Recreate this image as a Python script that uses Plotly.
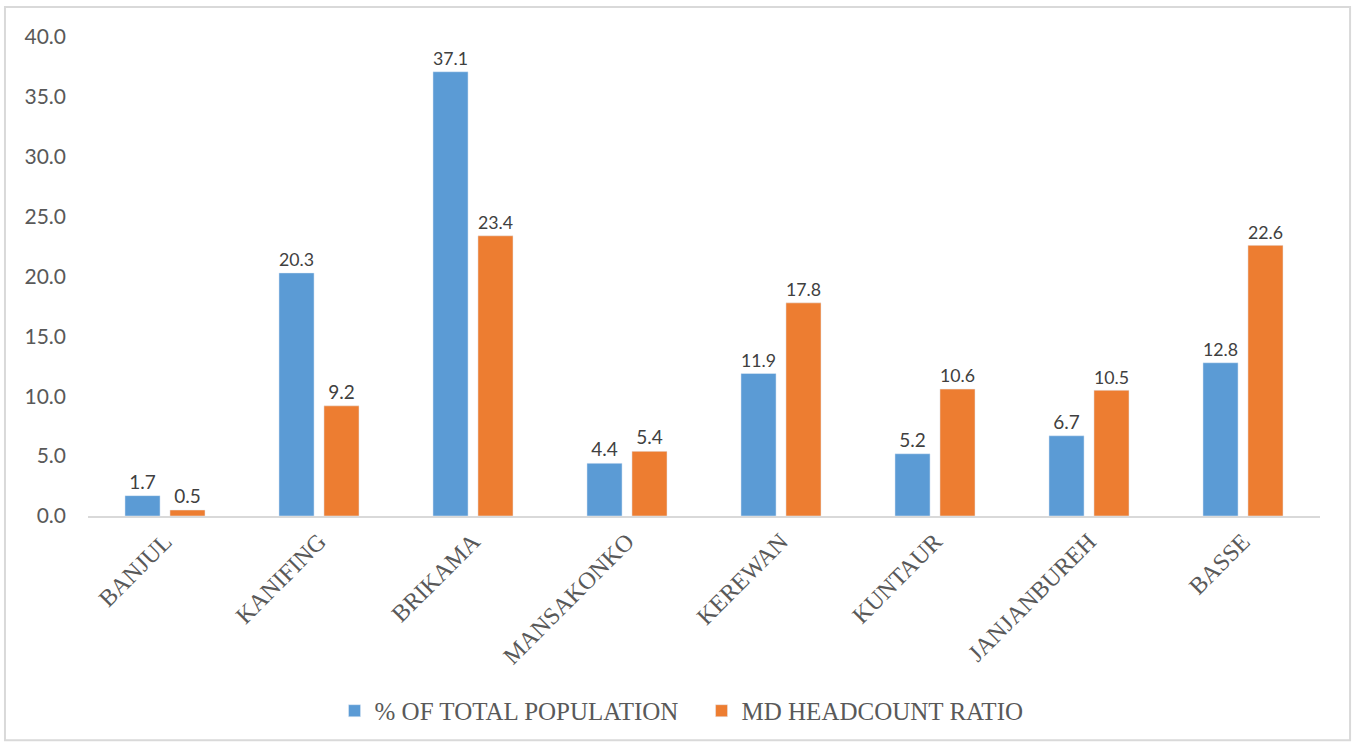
import plotly.graph_objects as go

# Données
districts = ["BANJUL", "KANIFING", "BRIKAMA", "MANSAKONKO", "KEREWAN",
             "KUNTAUR", "JANJANBUREH", "BASSE"]
pct_population = [1.7, 20.3, 37.1, 4.4, 11.9, 5.2, 6.7, 12.8]
md_headcount = [0.5, 9.2, 23.4, 5.4, 17.8, 10.6, 10.5, 22.6]
y_ticks = [0, 5, 10, 15, 20, 25, 30, 35, 40]

label_font = dict(family="Lato, Carlito, sans-serif", size=19, color="#404040")
serif = "Liberation Serif, Times New Roman, serif"

fig = go.Figure()

fig.add_trace(go.Bar(
    x=districts,
    y=pct_population,
    name="% OF TOTAL POPULATION",
    marker=dict(color="#5B9BD5"),
    text=[f"{v:.1f}" for v in pct_population],
    textposition="outside",
    textfont=label_font,
    cliponaxis=False,
))

fig.add_trace(go.Bar(
    x=districts,
    y=md_headcount,
    name="MD HEADCOUNT RATIO",
    marker=dict(color="#ED7D31"),
    text=[f"{v:.1f}" for v in md_headcount],
    textposition="outside",
    textfont=label_font,
    cliponaxis=False,
))

# Cadre gris autour du graphique (style Excel)
fig.add_shape(
    type="rect", xref="paper", yref="paper",
    x0=-0.0674, x1=1.0244, y0=-0.468, y1=1.0624,
    line=dict(color="#d9d9d9", width=2),
    fillcolor="rgba(0,0,0,0)",
)

fig.update_layout(
    width=1356,
    height=746,
    margin=dict(l=88, r=36, t=37, b=228),
    paper_bgcolor="white",
    plot_bgcolor="white",
    barmode="group",
    bargap=0.416,
    bargroupgap=0.22,
    showlegend=True,
    legend=dict(
        orientation="h",
        x=0.498, xanchor="center",
        y=-0.407, yanchor="middle",
        font=dict(family=serif, size=25, color="#595959"),
        itemwidth=30,
        entrywidth=322,
        tracegroupgap=0,
    ),
    xaxis=dict(
        tickangle=-45,
        tickfont=dict(family=serif, size=24, color="#595959"),
        showline=True,
        linecolor="#d9d9d9",
        linewidth=2,
        ticks="",
        showgrid=False,
    ),
    yaxis=dict(
        range=[0, 40],
        tickvals=y_ticks,
        ticktext=[f"{v:.1f}" for v in y_ticks],
        tickfont=dict(family="Lato, Carlito, sans-serif", size=21, color="#595959"),
        showgrid=False,
        zeroline=False,
        ticks="",
        ticklabelstandoff=21,
    ),
)

# Pas de marge sur le body : la figure occupe exactement la fenêtre
fig.write_html("out.html", config={"displayModeBar": False},
               post_script="document.body.style.margin='0px';")
